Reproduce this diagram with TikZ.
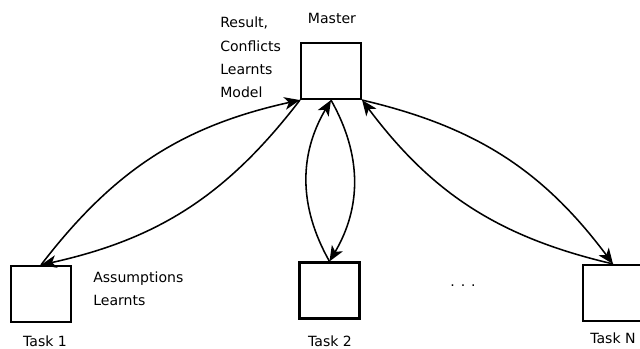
\documentclass[tikz,border=0pt]{standalone}
\usepackage{fontspec}
\setmainfont{DejaVu Sans}
\usetikzlibrary{arrows.meta,positioning}

\begin{document}
\begin{tikzpicture}[x=0.025cm,y=-0.025cm,
  box/.style={draw,line width=1.5pt,minimum width=1.5cm,minimum height=1.4cm,inner sep=0pt},
  lbl/.style={anchor=base west,inner sep=0pt,font=\fontsize{10}{12}\selectfont},
  link/.style={line width=1.1pt,-{Stealth[length=11pt,width=9pt,inset=3pt]}}]
\useasboundingbox (0,0) rectangle (640,349);
\node[box] (master) at (331,71) {};
\node[box] (task1) at (41,294) {};
\node[box] (task2) at (329.5,290.5) {};
\node[box] (taskN) at (613,293) {};
\node[lbl,anchor=base] (lmaster) at (332,23) {Master};
\node[lbl] (lres) at (220,27) {Result,};
\node[lbl] (lconf) at (220,51) {Conflicts};
\node[lbl] (llearn) at (220,74) {Learnts};
\node[lbl] (lmodel) at (220,97) {Model};
\node[lbl] (lassum) at (93,282) {Assumptions};
\node[lbl] (llearn2) at (93,305) {Learnts};
\node[lbl,anchor=base] (ltask1) at (45,346) {Task 1};
\node[lbl,anchor=base] (ltask2) at (330,346) {Task 2};
\node[lbl] (ltaskN) at (590,343) {Task N};
\node[lbl,anchor=center] (dots) at (463,286) {. . .};
% master <-> task 1
\draw[link] (task1.north) to[bend left=20] (master.south west);
\draw[link] (master.south west) to[bend left=20] (task1.north);
% master <-> task 2
\draw[link] (task2.north) to[bend left=30] (master.south);
\draw[link] (master.south) to[bend left=30] (task2.north);
% master <-> task N
\draw[link] (master.south east) to[bend left=20] (taskN.north);
\draw[link] (taskN.north) to[bend left=20] (master.south east);
\end{tikzpicture}
\end{document}
